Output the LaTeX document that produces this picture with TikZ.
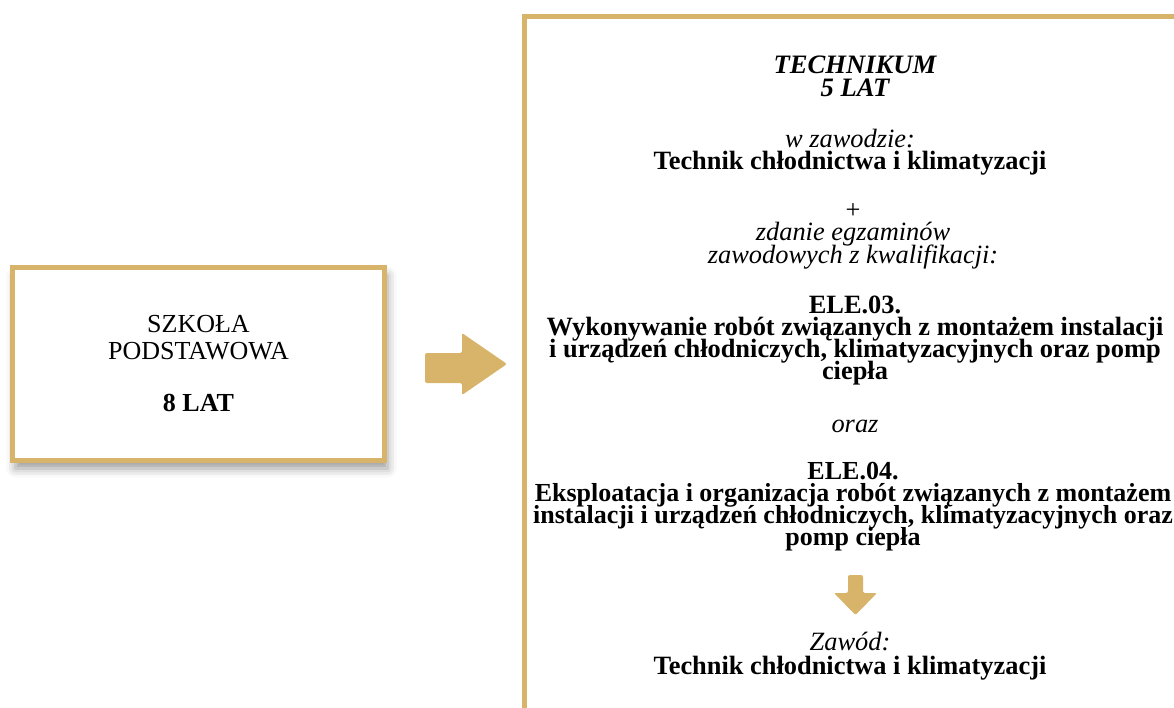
\documentclass[tikz,border=0pt]{standalone}
\usepackage{fontspec}
\setmainfont{Liberation Serif}
\usepackage{tikz}
\usetikzlibrary{positioning, shadows.blur}
\definecolor{tgGold}{RGB}{216, 180, 106}
\newcommand{\tightlines}{\lineskiplimit=-100pt}
\tikzset{
    base/.style={
        inner sep=0pt,
        align=center,
        font=\fontsize{26.4}{22}\selectfont\tightlines
    },
    schoolbox/.style={
        rectangle,
        draw=tgGold,
        line width=5pt,
        fill=white,
        align=center,
        font=\fontsize{26}{27}\selectfont\tightlines,
        minimum width=372pt,
        minimum height=193pt,
        blur shadow={shadow xshift=3pt, shadow yshift=-8pt, shadow blur radius=9pt, shadow opacity=40}
    },
    frame/.style={
        rectangle,
        draw=tgGold,
        line width=5pt,
        fill=white,
        anchor=north west
    },
    blockarrow/.style={
        fill=tgGold,
        rounded corners=2pt
    },
    lines/.style={
        base,
        anchor=base
    }
}

\begin{document}
\begin{tikzpicture}[x=1pt, y=-1pt]
  \useasboundingbox (0,0) rectangle (1174,707);
  \clip (0,0) rectangle (1174,707);

  % Boxes
  \node[schoolbox] (school) at (198.5,364) {SZKOŁA\\PODSTAWOWA\\[25pt]\textbf{8 LAT}};
  \node[frame, minimum width=680pt, minimum height=720pt] (tech) at (522,14) {};

  % Arrow between the boxes
  \fill[blockarrow] (425,353) -- (462,353) -- (462,333) -- (507,364)
    -- (462,395) -- (462,383) -- (425,383) -- cycle;

  % Technikum (base = last line)
  \node[lines, font=\fontsize{26.6}{23}\selectfont\tightlines\bfseries\itshape] (title) at (855,96) {TECHNIKUM\\5 LAT};
  \node[lines] (trade) at (850,169) {\textit{w zawodzie:}\\\textbf{Technik chłodnictwa i klimatyzacji}};
  \node[lines, font=\fontsize{26.4}{22.5}\selectfont\tightlines\itshape] (exams) at (853,263) {\upshape +\\zdanie egzaminów\\zawodowych z kwalifikacji:};

  % Qualifications
  \node[lines, font=\fontsize{26.4}{22}\selectfont\tightlines\bfseries] (ele03) at (855,379) {ELE.03.\\Wykonywanie robót związanych z montażem instalacji\\i urządzeń chłodniczych, klimatyzacyjnych oraz pomp\\ciepła};
  \node[lines, font=\fontsize{26.4}{22}\selectfont\itshape] (oraz) at (855,432) {oraz};
  \node[lines, font=\fontsize{26}{21.7}\selectfont\tightlines\bfseries] (ele04) at (853,545) {ELE.04.\\Eksploatacja i organizacja robót związanych z montażem\\instalacji i urządzeń chłodniczych, klimatyzacyjnych oraz\\pomp ciepła};

  % Result
  \fill[blockarrow] (848,575) -- (863,575) -- (863,593) -- (877,593)
    -- (855.5,615) -- (834,593) -- (848,593) -- cycle;
  \node[lines, font=\fontsize{26.4}{24}\selectfont\tightlines] (job) at (850,674) {\textit{Zawód:}\\\textbf{Technik chłodnictwa i klimatyzacji}};
\end{tikzpicture}
\end{document}
